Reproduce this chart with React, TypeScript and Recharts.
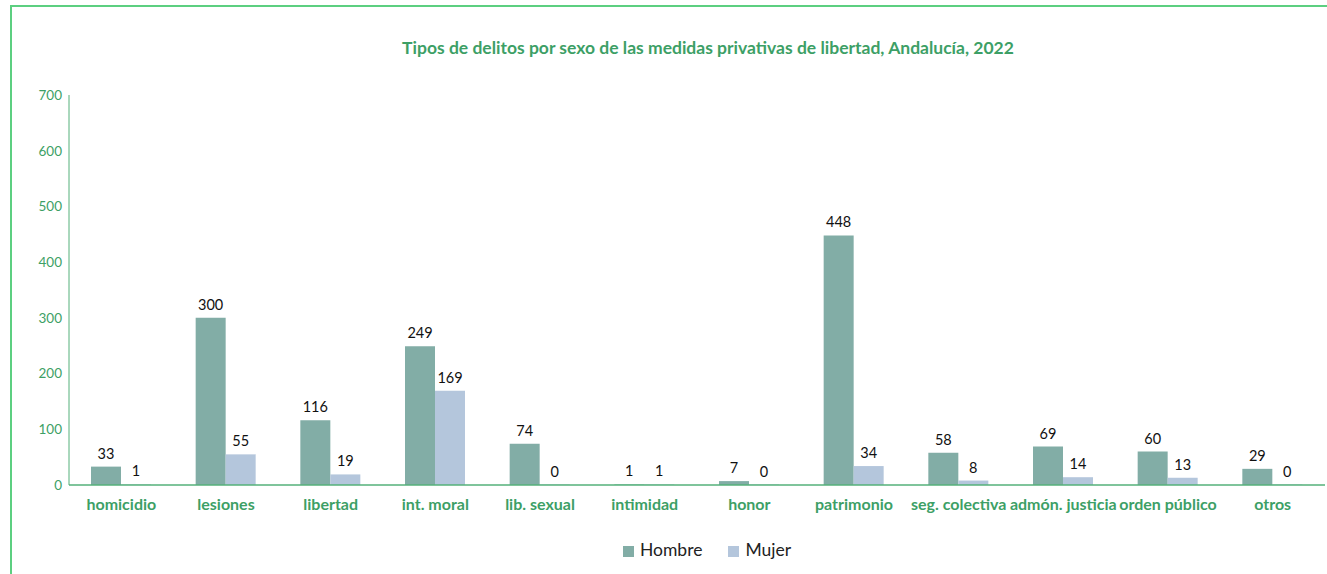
import { BarChart, Bar, XAxis, YAxis, Legend, LabelList } from "recharts";

const categories = [
  "homicidio",
  "lesiones",
  "libertad",
  "int. moral",
  "lib. sexual",
  "intimidad",
  "honor",
  "patrimonio",
  "seg. colectiva",
  "admón. justicia",
  "orden público",
  "otros",
];
const hombre = [33, 300, 116, 249, 74, 1, 7, 448, 58, 69, 60, 29];
const mujer = [1, 55, 19, 169, 0, 1, 0, 34, 8, 14, 13, 0];
const yTicks = [0, 100, 200, 300, 400, 500, 600, 700];

const GREEN = "#3d9f66";
const FONT = "Lato, 'Open Sans', sans-serif";

const data = categories.map((c, i) => ({ name: c, Hombre: hombre[i], Mujer: mujer[i] }));

export default function App() {
  return (
    <div style={{ position: "absolute", left: 0, top: 0, width: 1327, height: 574, overflow: "hidden", background: "#fff", fontFamily: FONT }}>
      <div
        style={{
          position: "absolute",
          left: 10,
          top: 5,
          width: 1340,
          height: 600,
          borderLeft: "2px solid #5ccf80",
          borderTop: "2px solid #5ccf80",
        }}
      />
      <div
        style={{
          position: "absolute",
          left: 0,
          top: 37,
          width: 1416,
          textAlign: "center",
          color: GREEN,
          fontWeight: 700,
          fontSize: 17.5,
        }}
      >
        Tipos de delitos por sexo de las medidas privativas de libertad, Andalucía, 2022
      </div>
      <div style={{ position: "absolute", left: 0, top: 0 }}>
        <BarChart
          width={1327}
          height={574}
          data={data}
          margin={{ top: 95, right: 2, left: 10, bottom: 59 }}
          barGap={0}
          barCategoryGap={22}
        >
          <XAxis
            dataKey="name"
            axisLine={{ stroke: "#55b07a", strokeWidth: 1.5 }}
            tickLine={false}
            tickMargin={8}
            height={30}
            interval={0}
            tick={{ fill: GREEN, fontSize: 16, fontWeight: 700, fontFamily: FONT }}
          />
          <YAxis
            width={59}
            domain={[0, 700]}
            ticks={yTicks}
            axisLine={{ stroke: "#55b07a", strokeWidth: 1 }}
            tickLine={false}
            tickMargin={1}
            tick={{ fill: GREEN, fontSize: 13.5, fontFamily: FONT }}
          />
          <Legend
            verticalAlign="middle"
            align="center"
            iconType="square"
            iconSize={11}
            wrapperStyle={{ top: 539, left: 12, width: 1416, fontSize: 17.5, fontFamily: FONT }}
            formatter={(v) => <span style={{ color: "#222", marginLeft: 2, marginRight: 16 }}>{v}</span>}
          />
          <Bar dataKey="Hombre" fill="#82ada6" minPointSize={0.5} isAnimationActive={false}>
            <LabelList dataKey="Hombre" position="top" offset={8} fill="#111" fontSize={14.5} fontFamily={FONT} />
          </Bar>
          <Bar dataKey="Mujer" fill="#b4c6dc" minPointSize={0.5} isAnimationActive={false}>
            <LabelList dataKey="Mujer" position="top" offset={8} fill="#111" fontSize={14.5} fontFamily={FONT} />
          </Bar>
        </BarChart>
      </div>
    </div>
  );
}
